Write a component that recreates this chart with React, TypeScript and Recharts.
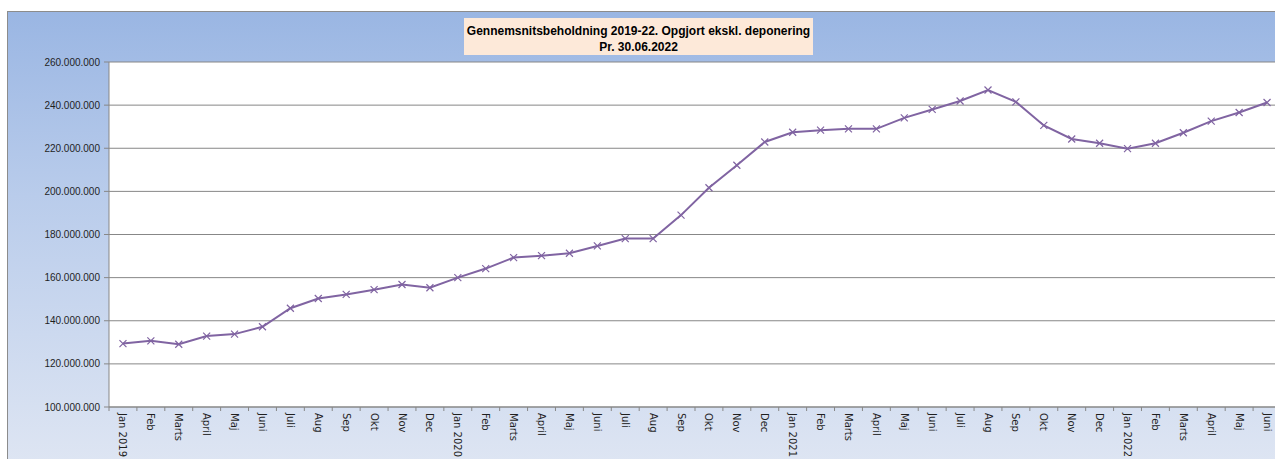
import React from 'react';
import { LineChart, Line, XAxis, YAxis, CartesianGrid } from 'recharts';

// Gennemsnitsbeholdning pr. måned, jan 2019 - jun 2022
const months = [
  'Jan 2019', 'Feb', 'Marts', 'April', 'Maj', 'Juni', 'Juli', 'Aug', 'Sep', 'Okt', 'Nov', 'Dec',
  'Jan 2020', 'Feb', 'Marts', 'April', 'Maj', 'Juni', 'Juli', 'Aug', 'Sep', 'Okt', 'Nov', 'Dec',
  'Jan 2021', 'Feb', 'Marts', 'April', 'Maj', 'Juni', 'Juli', 'Aug', 'Sep', 'Okt', 'Nov', 'Dec',
  'Jan 2022', 'Feb', 'Marts', 'April', 'Maj', 'Juni',
];

const beholdning = [
  129400000, 130700000, 129100000, 132900000, 133800000, 137200000,
  145800000, 150300000, 152200000, 154400000, 156800000, 155300000,
  160000000, 164200000, 169300000, 170200000, 171300000, 174700000,
  178100000, 178100000, 189000000, 201700000, 212100000, 222900000,
  227400000, 228400000, 229000000, 229000000, 234100000, 238000000,
  241900000, 247000000, 241500000, 230600000, 224300000, 222300000,
  219800000, 222300000, 227200000, 232600000, 236600000, 241200000,
];

const yTicks = [100000000, 120000000, 140000000, 160000000, 180000000, 200000000, 220000000, 240000000, 260000000];

const PURPLE = '#8064a2';
const GRID = '#878787';

const data = beholdning.map((v, i) => ({ idx: i, value: v }));
const labelTicks = months.map((_, i) => i);
const boundaryTicks = [...months.map((_, i) => i - 0.5), months.length - 0.5];

const fmt = (n: number) => n.toString().replace(/\B(?=(\d{3})+(?!\d))/g, '.');

const CrossDot = (props: any) => {
  const { cx, cy } = props;
  if (cx == null || cy == null) return null;
  const s = 3.5;
  return (
    <path
      d={`M${cx - s},${cy - s}L${cx + s},${cy + s}M${cx - s},${cy + s}L${cx + s},${cy - s}`}
      stroke={PURPLE}
      strokeWidth={1.2}
      fill="none"
    />
  );
};

const MonthTick = (props: any) => {
  const { x, y, payload } = props;
  return (
    <text
      x={0}
      y={0}
      dy="0.35em"
      transform={`translate(${x},${y}) rotate(90)`}
      textAnchor="start"
      fontFamily="DejaVu Sans"
      fontSize={10}
      fill="#1f1f1f"
    >
      {months[payload.value]}
    </text>
  );
};

const NoTick = () => <g />;

export default function App() {
  return (
    <div style={{ position: 'fixed', left: 0, top: 0, width: 1275, height: 459, overflow: 'hidden', background: '#fff' }}>
      <div
        style={{
          position: 'absolute',
          left: 7,
          top: 11,
          width: 1300,
          height: 460,
          borderTop: '1px solid #8c8c8c',
          borderLeft: '1px solid #8c8c8c',
          background: 'linear-gradient(to bottom, #9ab6e3 0%, #b9cceb 40%, #dfe6f3 100%)',
        }}
      >
        <LineChart width={1290} height={447} data={data} margin={{ top: 50, right: 17, left: 0, bottom: 50 }}>
          <CartesianGrid xAxisId="l" vertical={false} stroke={GRID} fill="#ffffff" fillOpacity={1} />
          <XAxis
            xAxisId="b"
            dataKey="idx"
            type="number"
            domain={[-0.5, months.length - 0.5]}
            ticks={boundaryTicks}
            interval={0}
            height={1}
            axisLine={{ stroke: GRID }}
            tickLine={{ stroke: GRID }}
            tickSize={4}
            tick={<NoTick />}
          />
          <XAxis
            xAxisId="l"
            dataKey="idx"
            type="number"
            domain={[-0.5, months.length - 0.5]}
            ticks={labelTicks}
            interval={0}
            height={1}
            axisLine={false}
            tickLine={false}
            tickSize={0}
            tickMargin={5}
            tick={<MonthTick />}
          />
          <YAxis
            width={101}
            domain={[100000000, 260000000]}
            ticks={yTicks}
            interval={0}
            tickFormatter={fmt}
            axisLine={{ stroke: GRID }}
            tickLine={{ stroke: GRID }}
            tickSize={5}
            tickMargin={4}
            tick={{ fontFamily: 'Liberation Sans', fontSize: 10, fill: '#1f1f1f' }}
          />
          <Line
            xAxisId="l"
            dataKey="value"
            stroke={PURPLE}
            strokeWidth={2}
            dot={<CrossDot />}
            activeDot={false}
            isAnimationActive={false}
          />
        </LineChart>
      </div>
      <div
        style={{
          position: 'absolute',
          left: 464,
          top: 18,
          width: 349,
          height: 37,
          boxSizing: 'border-box',
          paddingTop: 5,
          background: '#fde9d9',
          fontFamily: '"Liberation Sans", sans-serif',
          fontWeight: 'bold',
          fontSize: 12,
          lineHeight: '16px',
          textAlign: 'center',
          whiteSpace: 'nowrap',
          color: '#000',
        }}
      >
        Gennemsnitsbeholdning 2019-22. Opgjort ekskl. deponering
        <br />
        Pr. 30.06.2022
      </div>
    </div>
  );
}
